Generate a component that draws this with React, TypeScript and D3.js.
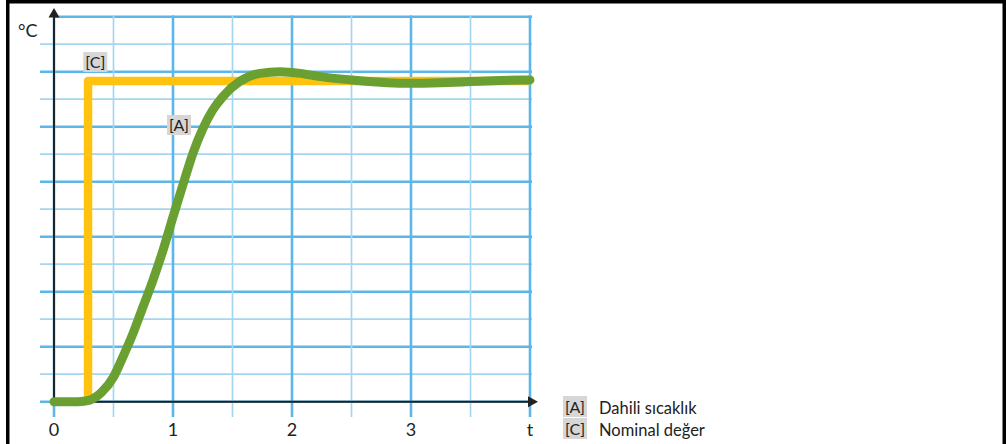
import React from "react";
import * as d3 from "d3";

// time axis (x) and temperature (y) values
const tickLabels = ["0", "1", "2", "3", "t"];
const tickValues = [0, 1, 2, 3, 4];
const timeA = [0, 0.2, 0.3, 0.4, 0.5, 0.58, 0.66, 0.74, 0.83, 0.92, 1.0, 1.09, 1.17, 1.25, 1.33, 1.42, 1.56, 1.73, 1.9, 2.07, 2.24, 2.5, 2.8, 3.0, 3.25, 3.5, 3.75, 4.0];
const tempA = [0, 0, 0.03, 0.17, 0.45, 0.82, 1.22, 1.68, 2.2, 2.78, 3.36, 3.99, 4.53, 4.96, 5.29, 5.55, 5.82, 5.97, 6.0, 5.97, 5.91, 5.85, 5.8, 5.79, 5.8, 5.82, 5.84, 5.85];
const timeC = [0.286, 0.286, 4.0];
const tempC = [0, 5.83, 5.83];
const legendKeys = ["[A]", "[C]"];
const legendNames = ["Dahili sıcaklık", "Nominal değer"];

const FONT = "Lato, 'Open Sans', sans-serif";

export default function App() {
  const W = 1006, H = 444;
  const x = d3.scaleLinear().domain([0, 4]).range([54, 530]);
  const y = d3.scaleLinear().domain([0, 7]).range([401.7, 16.7]);

  const line = d3
    .line<[number, number]>()
    .x((d) => x(d[0]))
    .y((d) => y(d[1]))
    .curve(d3.curveMonotoneX);
  const stepLine = d3
    .line<[number, number]>()
    .x((d) => x(d[0]))
    .y((d) => y(d[1]));

  const ptsA: [number, number][] = timeA.map((t, i) => [t, tempA[i]]);
  const ptsC: [number, number][] = timeC.map((t, i) => [t, tempC[i]]);

  const vTicks = d3.range(0, 4.001, 0.5);
  const hTicks = d3.range(0, 7.001, 0.5);
  const isMajor = (v: number) => Math.abs(v - Math.round(v)) < 1e-6;

  const majorColor = "#5cb7e8";
  const minorColor = "#a5d6f1";

  const labelBox = (cx: number, cy: number, text: string, key: string) => (
    <g key={key}>
      <rect x={cx - 12} y={cy - 10.5} width={24} height={20} fill="#d6d6d6" />
      <text x={cx} y={cy + 5.5} textAnchor="middle" fontSize={16} fontFamily={FONT} fill="#222">
        {text}
      </text>
    </g>
  );

  return (
    <svg
      width={W}
      height={H}
      viewBox={`0 0 ${W} ${H}`}
      style={{ position: "absolute", left: 0, top: 0, background: "#fff" }}
    >
      <rect x={0} y={0} width={W} height={H} fill="#fff" />
      {/* grid */}
      <g>
        {hTicks.map((v) => (
          <line
            key={"h" + v}
            x1={v === 7 ? 54 : 40}
            x2={532}
            y1={y(v)}
            y2={y(v)}
            stroke={isMajor(v) ? majorColor : minorColor}
            strokeWidth={isMajor(v) ? 2.6 : 1.7}
          />
        ))}
        {vTicks.map((t) => (
          <line
            key={"v" + t}
            x1={x(t)}
            x2={x(t)}
            y1={15.5}
            y2={417}
            stroke={isMajor(t) ? majorColor : minorColor}
            strokeWidth={isMajor(t) ? 2.6 : 1.7}
          />
        ))}
      </g>
      {/* axes */}
      <line x1={x(0)} x2={x(0)} y1={y(0)} y2={14} stroke="#222" strokeWidth={2} />
      <path d={`M${x(0)},8 L${x(0) + 5.5},17.5 L${x(0) - 5.5},17.5 Z`} fill="#222" />
      <line x1={x(0)} x2={530} y1={y(0)} y2={y(0)} stroke="#222" strokeWidth={2} />
      <path d={`M538,${y(0)} L528,${y(0) - 5.5} L528,${y(0) + 5.5} Z`} fill="#222" />

      {/* series */}
      <path d={stepLine(ptsC) || ""} fill="none" stroke="#ffc20f" strokeWidth={8.5} strokeLinejoin="round" />
      <path d={line(ptsA) || ""} fill="none" stroke="#6a9f32" strokeWidth={9} strokeLinecap="round" strokeLinejoin="round" />

      {/* in-chart labels */}
      {labelBox(95.3, 62.5, "[C]", "lc")}
      {labelBox(179, 125.5, "[A]", "la")}

      {/* axis labels */}
      <text x={18} y={36.5} fontSize={18} fontFamily={FONT} fill="#222">
        °C
      </text>
      {tickValues.map((t, i) => (
        <text key={"t" + i} x={x(t)} y={436} textAnchor="middle" fontSize={18} fontFamily={FONT} fill="#222">
          {tickLabels[i]}
        </text>
      ))}

      {/* legend */}
      {legendKeys.map((k, i) => (
        <g key={"lg" + i}>
          <rect x={563} y={396 + i * 22} width={24} height={21} fill="#d6d6d6" />
          <text x={575} y={413 + i * 22} textAnchor="middle" fontSize={16} fontFamily={FONT} fill="#222">
            {k}
          </text>
          <text x={599} y={413.5 + i * 22} fontSize={16.5} fontFamily={FONT} fill="#222">
            {legendNames[i]}
          </text>
        </g>
      ))}

      {/* frame */}
      <rect x={7.75} y={1.75} width={996.5} height={470} fill="none" stroke="#000" strokeWidth={3.5} />
    </svg>
  );
}
